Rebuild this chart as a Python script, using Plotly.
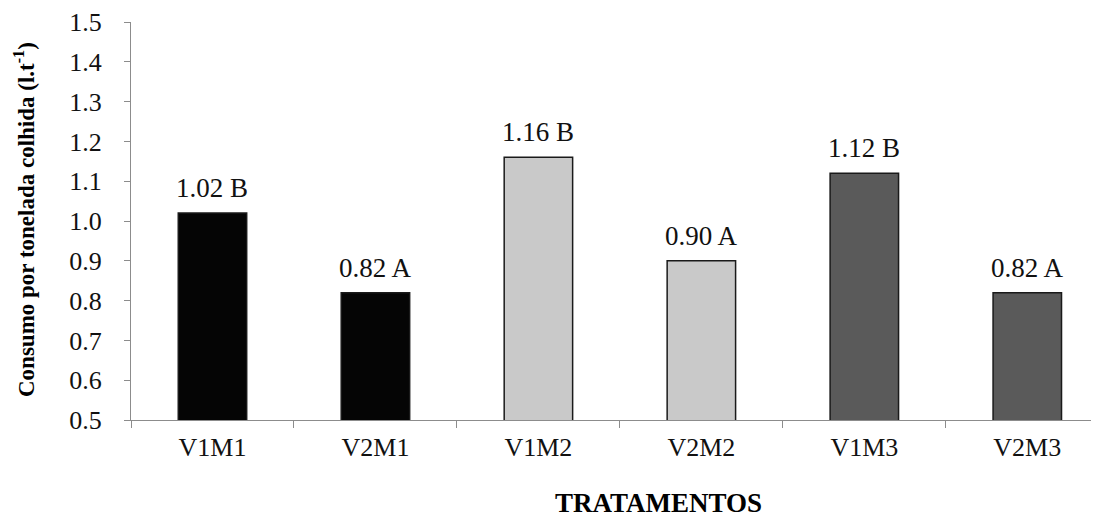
import plotly.graph_objects as go

categories = ["V1M1", "V2M1", "V1M2", "V2M2", "V1M3", "V2M3"]
values = [1.02, 0.82, 1.16, 0.90, 1.12, 0.82]
letters = ["B", "A", "B", "A", "B", "A"]
colors = ["#050505", "#050505", "#c9c9c9", "#c9c9c9", "#5a5a5a", "#5a5a5a"]

labels = [f"{v:.2f} {l}" for v, l in zip(values, letters)]
FONT = "Times New Roman, Liberation Serif, DejaVu Serif, serif"
# page body has an 8px margin; size the figure so it fits the window
OFF = 8
W, H = 1099 - OFF, 519 - OFF
L, R, T, B = 131 - OFF, 0, 22 - OFF, 99

fig = go.Figure(go.Bar(
    x=categories, y=values, base=0,
    marker=dict(color=colors, line=dict(color="#1a1a1a", width=1.5)),
    width=0.42,
))

for c, v, t in zip(categories, values, labels):
    fig.add_annotation(
        x=c, y=v, text=t, xref="x", yref="y",
        xanchor="center", yanchor="bottom", yshift=8, showarrow=False,
        font=dict(family=FONT, size=27, color="#111"),
    )

fig.update_layout(
    width=W, height=H,
    margin=dict(l=L, r=R, t=T, b=B),
    plot_bgcolor="white", paper_bgcolor="white",
    showlegend=False,
    font=dict(family=FONT, size=26, color="#111"),
)
fig.update_yaxes(
    range=[0.5, 1.5], dtick=0.1, tickformat=".1f",
    showgrid=False, zeroline=False, automargin=False,
    showline=True, linecolor="#8c8c8c", linewidth=1,
    ticks="outside", ticklen=6, tickcolor="#8c8c8c",
    ticklabelstandoff=17,
    tickfont=dict(family=FONT, size=26, color="#111"),
)
fig.update_xaxes(
    range=[-0.5, 5.44], automargin=False,
    showgrid=False, showline=True, linecolor="#8c8c8c", linewidth=1,
    ticks="outside", tickson="boundaries", ticklen=7, tickcolor="#8c8c8c",
    ticklabelstandoff=4,
    tickfont=dict(family=FONT, size=26, color="#111"),
)

plot_h = H - T - B
plot_w = W - L - R
fig.add_annotation(
    text="<b>Consumo por tonelada colhida (l.t<sup>-1</sup>)</b>",
    xref="paper", yref="paper",
    x=(16 - L) / plot_w, y=(H - B - 212) / plot_h,
    xanchor="center", yanchor="middle", textangle=-90, showarrow=False,
    font=dict(family=FONT, size=23, color="#000"),
)
fig.add_annotation(
    text="<b>TRATAMENTOS</b>",
    xref="paper", yref="paper",
    x=(650 - L) / plot_w, y=-(H - (H - B)) / plot_h,
    xanchor="center", yanchor="bottom", showarrow=False, borderpad=0,
    font=dict(family=FONT, size=27, color="#000"),
)

fig.write_html("out.html")
